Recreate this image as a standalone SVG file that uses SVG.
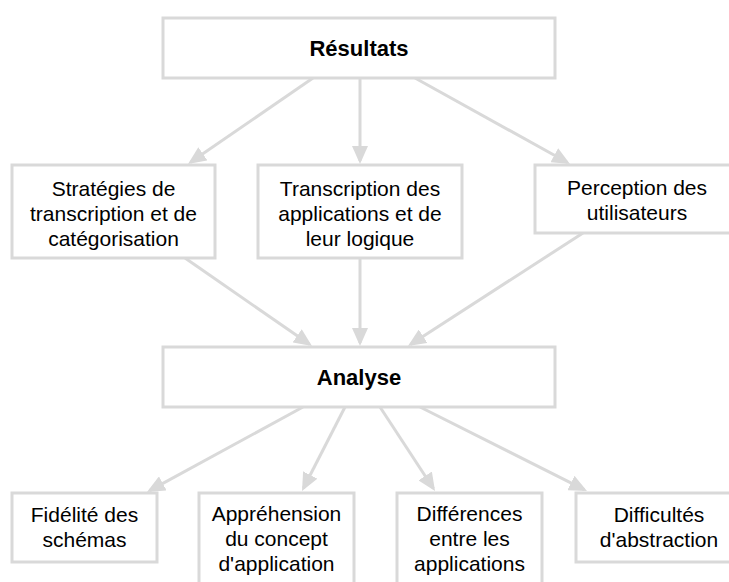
<svg xmlns="http://www.w3.org/2000/svg" width="729" height="582" viewBox="0 0 729 582">
<style>
.box{fill:#fff;stroke:#d9d9d9;stroke-width:3}
.t{font-family:"Liberation Sans",Arial,sans-serif;font-size:21px;fill:#000;text-anchor:middle}
.b{font-weight:bold;font-size:22px}
.c{stroke:#d9d9d9;stroke-width:3;fill:none;marker-end:url(#ah)}
</style>
<defs>
<marker id="ah" markerUnits="userSpaceOnUse" markerWidth="18" markerHeight="16" refX="15" refY="8" orient="auto">
<path d="M0,0 L18,8 L0,16 z" fill="#d9d9d9"/>
</marker>
</defs>
<rect width="729" height="582" fill="#fff"/>
<g id="connectors">
<line class="c" x1="313" y1="78" x2="190.5" y2="162.3"/>
<line class="c" x1="360" y1="78" x2="360" y2="161"/>
<line class="c" x1="415" y1="78" x2="567.4" y2="162.5"/>
<line class="c" x1="185" y1="258" x2="309.5" y2="344.3"/>
<line class="c" x1="360" y1="258" x2="360" y2="343"/>
<line class="c" x1="583" y1="233" x2="410.5" y2="344.4"/>
<line class="c" x1="303" y1="407" x2="149.6" y2="490.6"/>
<line class="c" x1="345" y1="407" x2="303.4" y2="488.3"/>
<line class="c" x1="380" y1="407" x2="433.4" y2="488.5"/>
<line class="c" x1="420" y1="407" x2="584.3" y2="489.7"/>
</g>
<g id="resultats">
<rect class="box" x="163" y="18" width="392" height="60"/>
<text class="t b" x="359" y="56">Résultats</text>
</g>
<g id="strategies">
<rect class="box" x="12" y="165" width="203" height="93"/>
<text class="t" x="113.5" y="196">Stratégies de</text>
<text class="t" x="113.5" y="221">transcription et de</text>
<text class="t" x="113.5" y="246">catégorisation</text>
</g>
<g id="transcription">
<rect class="box" x="258" y="165" width="204" height="93"/>
<text class="t" x="360" y="196">Transcription des</text>
<text class="t" x="360" y="221">applications et de</text>
<text class="t" x="360" y="246">leur logique</text>
</g>
<g id="perception">
<rect class="box" x="535" y="165" width="204" height="68"/>
<text class="t" x="637" y="195">Perception des</text>
<text class="t" x="637" y="220">utilisateurs</text>
</g>
<g id="analyse">
<rect class="box" x="163" y="347" width="392" height="60"/>
<text class="t b" x="359" y="385">Analyse</text>
</g>
<g id="fidelite">
<rect class="box" x="12" y="493" width="145" height="69"/>
<text class="t" x="84.5" y="522">Fidélité des</text>
<text class="t" x="84.5" y="547">schémas</text>
</g>
<g id="apprehension">
<rect class="box" x="199" y="493" width="155" height="100"/>
<text class="t" x="276.5" y="521">Appréhension</text>
<text class="t" x="276.5" y="546">du concept</text>
<text class="t" x="276.5" y="571">d'application</text>
</g>
<g id="differences">
<rect class="box" x="397" y="493" width="145" height="100"/>
<text class="t" x="469.5" y="521">Différences</text>
<text class="t" x="469.5" y="546">entre les</text>
<text class="t" x="469.5" y="571">applications</text>
</g>
<g id="difficultes">
<rect class="box" x="576" y="493" width="166" height="69"/>
<text class="t" x="659" y="522">Difficultés</text>
<text class="t" x="659" y="547">d'abstraction</text>
</g>
</svg>
